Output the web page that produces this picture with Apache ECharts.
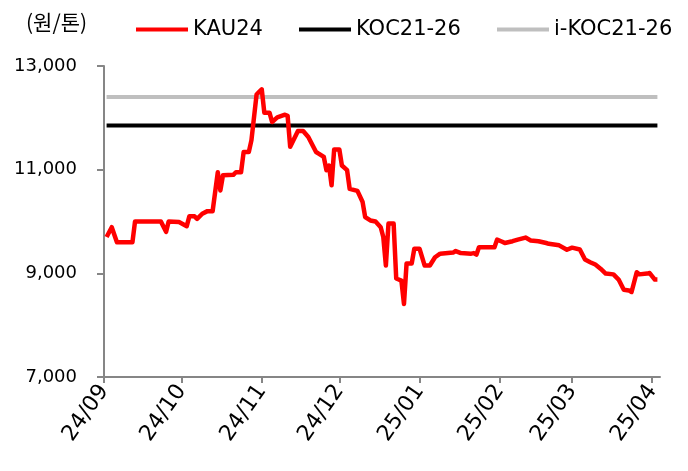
<!DOCTYPE html>
<html>
<head>
<meta charset="utf-8">
<script src="https://cdn.jsdelivr.net/npm/echarts@6/dist/echarts.min.js"></script>
<style>
  html, body { margin: 0; padding: 0; background: #fff; }
  #container { width: 688px; height: 471px; }
</style>
</head>
<body>
<div id="container"></div>
<script>
// KAU24 daily price (원/톤)
let kauDates = [
  '2024-09-02', '2024-09-04', '2024-09-06', '2024-09-12', '2024-09-13', '2024-09-23',
  '2024-09-25', '2024-09-26', '2024-09-30', '2024-10-03', '2024-10-04', '2024-10-06',
  '2024-10-07', '2024-10-09', '2024-10-11', '2024-10-13', '2024-10-15', '2024-10-16',
  '2024-10-17', '2024-10-21', '2024-10-22', '2024-10-24', '2024-10-25', '2024-10-27',
  '2024-10-28', '2024-10-30', '2024-10-31', '2024-11-01', '2024-11-02', '2024-11-04',
  '2024-11-05', '2024-11-07', '2024-11-10', '2024-11-11', '2024-11-12', '2024-11-15',
  '2024-11-17', '2024-11-19', '2024-11-22', '2024-11-23', '2024-11-25', '2024-11-26',
  '2024-11-27', '2024-11-28', '2024-11-29', '2024-12-01', '2024-12-02', '2024-12-04',
  '2024-12-05', '2024-12-08', '2024-12-10', '2024-12-11', '2024-12-13', '2024-12-15',
  '2024-12-17', '2024-12-18', '2024-12-19', '2024-12-20', '2024-12-22', '2024-12-23',
  '2024-12-25', '2024-12-26', '2024-12-27', '2024-12-29', '2024-12-30', '2025-01-01',
  '2025-01-03', '2025-01-05', '2025-01-07', '2025-01-09', '2025-01-14', '2025-01-15',
  '2025-01-17', '2025-01-21', '2025-01-22', '2025-01-23', '2025-01-24', '2025-01-30',
  '2025-01-31', '2025-02-02', '2025-02-03', '2025-02-06', '2025-02-08', '2025-02-11',
  '2025-02-13', '2025-02-16', '2025-02-19', '2025-02-20', '2025-02-24', '2025-02-27',
  '2025-03-01', '2025-03-04', '2025-03-06', '2025-03-08', '2025-03-10', '2025-03-12',
  '2025-03-14', '2025-03-17', '2025-03-19', '2025-03-21', '2025-03-23', '2025-03-24',
  '2025-03-26', '2025-03-27', '2025-03-30', '2025-03-31', '2025-04-02', '2025-04-03'
];
let kauValues = [
  9700, 9890, 9600, 9600, 10000, 10000,
  9800, 10000, 9990, 9910, 10100, 10100,
  10050, 10150, 10200, 10200, 10950, 10600,
  10890, 10900, 10950, 10950, 11340, 11340,
  11565, 12450, 12500, 12550, 12100, 12100,
  11920, 12010, 12060, 12040, 11440, 11745,
  11745, 11630, 11340, 11310, 11245, 10990,
  11080, 10700, 11390, 11390, 11080, 10990,
  10630, 10590, 10375, 10085, 10020, 10000,
  9890, 9700, 9150, 9960, 9960, 8900,
  8860, 8410, 9190, 9190, 9475, 9475,
  9150, 9150, 9310, 9380, 9400, 9430,
  9390, 9380, 9390, 9360, 9505, 9505,
  9650, 9610, 9585, 9620, 9650, 9690,
  9635, 9620, 9585, 9570, 9540, 9455,
  9495, 9460, 9265, 9215, 9170, 9090,
  8995, 8980, 8880, 8685, 8670, 8640,
  9020, 8980, 8995, 9005, 8880, 8880
];

// flat reference prices
let kocDates = ['2024-09-02', '2025-04-03'];
let kocValues = [11850, 11850];
let ikocDates = ['2024-09-02', '2025-04-03'];
let ikocValues = [12400, 12400];

let seriesNames = ['KAU24', 'KOC21-26', 'i-KOC21-26'];
let yTicks = [7000, 9000, 11000, 13000];

function pairs(dates, values) {
  return dates.map(function (d, i) { return [d, values[i]]; });
}

let dom = document.getElementById('container');
let myChart = echarts.init(dom, null, { renderer: 'canvas' });

let font = '"DejaVu Sans", sans-serif';
let legendBase = {
  top: 14,
  icon: 'rect',
  itemWidth: 52,
  itemHeight: 4,
  itemGap: 5,
  textStyle: { fontFamily: font, fontSize: 21, color: '#000' }
};

let option = {
  animation: false,
  backgroundColor: '#fff',
  grid: { left: 104, right: 28, top: 66, bottom: 94 },
  legend: [
    Object.assign({}, legendBase, { left: 131, data: [seriesNames[0]] }),
    Object.assign({}, legendBase, { left: 294, data: [seriesNames[1]] }),
    Object.assign({}, legendBase, { left: 492, data: [seriesNames[2]] })
  ],
  graphic: [{
    type: 'text',
    left: 26,
    top: 12,
    style: {
      text: '(원/톤)',
      font: '21px "Noto Sans CJK KR"',
      fill: '#000'
    }
  }],
  xAxis: {
    type: 'time',
    min: '2024-09-01',
    max: '2025-04-04',
    minInterval: 28 * 86400000,
    splitNumber: 7,
    splitLine: { show: false },
    axisLine: { lineStyle: { color: '#868686', width: 2 } },
    axisTick: { show: true, length: 6, lineStyle: { color: '#868686', width: 2 } },
    axisLabel: {
      rotate: 55,
      margin: 10,
      fontFamily: font,
      fontSize: 22,
      color: '#000',
      hideOverlap: false,
      formatter: function (val) {
        let d = new Date(val);
        let yy = String(d.getFullYear()).slice(2);
        let mm = String(d.getMonth() + 1).padStart(2, '0');
        return yy + '/' + mm;
      }
    }
  },
  yAxis: {
    type: 'value',
    min: yTicks[0],
    max: yTicks[yTicks.length - 1],
    interval: 2000,
    splitLine: { show: false },
    axisLine: { show: true, lineStyle: { color: '#868686', width: 2 } },
    axisTick: { show: true, length: 7, lineStyle: { color: '#868686', width: 2 } },
    axisLabel: {
      margin: 27,
      fontFamily: font,
      fontSize: 18,
      color: '#000',
      formatter: function (v) { return v.toLocaleString('en-US'); }
    }
  },
  series: [
    {
      name: seriesNames[2],
      type: 'line',
      symbol: 'none',
      data: pairs(ikocDates, ikocValues),
      lineStyle: { color: '#BFBFBF', width: 4 },
      itemStyle: { color: '#BFBFBF' },
      z: 1
    },
    {
      name: seriesNames[1],
      type: 'line',
      symbol: 'none',
      data: pairs(kocDates, kocValues),
      lineStyle: { color: '#000', width: 4 },
      itemStyle: { color: '#000' },
      z: 2
    },
    {
      name: seriesNames[0],
      type: 'line',
      symbol: 'none',
      data: pairs(kauDates, kauValues),
      lineStyle: { color: '#FF0000', width: 4.5, join: 'round' },
      itemStyle: { color: '#FF0000' },
      z: 3
    }
  ]
};

myChart.setOption(option);
</script>
</body>
</html>
